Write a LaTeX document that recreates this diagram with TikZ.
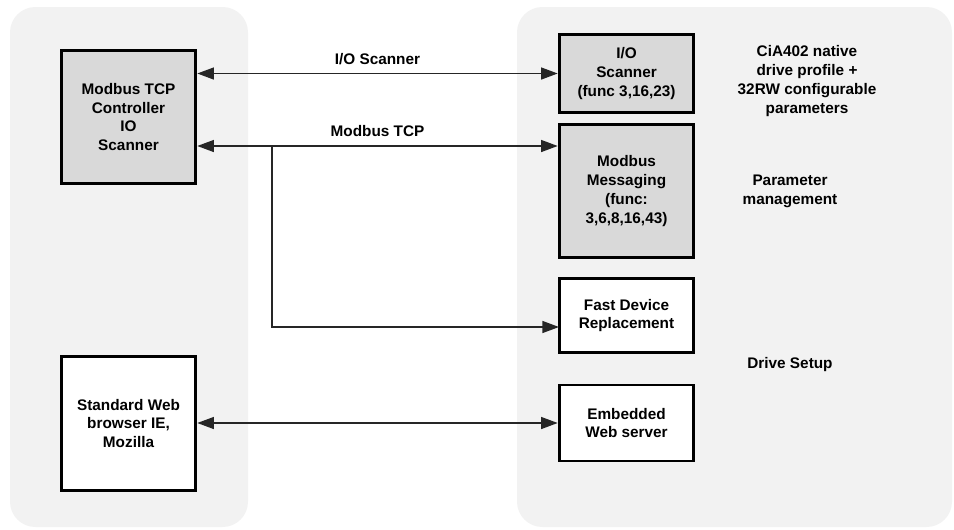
\documentclass[tikz,border=0pt]{standalone}
\usepackage{fontspec}
\setmainfont{Liberation Sans}
\usepackage{tikz}
\usetikzlibrary{arrows.meta}

\definecolor{panelgray}{HTML}{F2F2F2}
\definecolor{boxgray}{HTML}{D9D9D9}

\tikzset{
  block/.style={draw=black, line width=2.2pt, minimum width=101pt, inner sep=0pt,
                align=center, font=\fontsize{11.5}{14.2}\selectfont\bfseries},
  note/.style={align=center, font=\fontsize{11.5}{14.2}\selectfont\bfseries},
  link/.style={line width=1.1pt, draw=black!85}
}

\begin{document}
\begin{tikzpicture}[x=0.75pt, y=-0.75pt, >={Triangle[length=12.5pt, width=9pt]}]
    \useasboundingbox (0, 0) rectangle (954, 529);

    % draw the two panels
    \fill[panelgray, rounded corners=19pt] (10, 7) rectangle (248, 527);
    \fill[panelgray, rounded corners=19pt] (517, 7) rectangle (952, 527);

    % draw left boxes
    \node[block, fill=boxgray, minimum height=100pt] (ctrl) at (128.5, 117)
      {Modbus TCP\\Controller\\IO\\Scanner};
    \node[block, fill=white, minimum height=100pt] (web) at (128.5, 423.5)
      {Standard Web\\browser IE,\\Mozilla};

    % draw right boxes
    \node[block, fill=boxgray, minimum height=58pt] (ios) at (626.5, 73.5)
      {I/O\\Scanner\\(func 3,16,23)};
    \node[block, fill=boxgray, minimum height=100pt] (msg) at (626.5, 191)
      {Modbus\\Messaging\\(func:\\3,6,8,16,43)};
    \node[block, fill=white, minimum height=56pt] (fdr) at (626.5, 315.5)
      {Fast Device\\Replacement};
    \node[block, fill=white, minimum height=57pt] (ews) at (626.5, 423)
      {Embedded\\Web server};

    % draw side notes
    \node[note] (cia) at (807, 81)
      {CiA402 native\\drive profile +\\32RW configurable\\parameters};
    \node[note] (par) at (790, 191) {Parameter\\management};
    \node[note] (drv) at (790, 365) {Drive Setup};

    % draw connectors
    \coordinate (tcp) at (272, 146);
    \coordinate (fdrin) at (559, 327);
    \draw[link, <->] (ctrl.east |- ios.west) -- (ios.west)
      node[midway, above=3pt, note] (iolbl) {I/O Scanner};
    \draw[link, <->] (ctrl.east |- tcp) -- (msg.west |- tcp)
      node[midway, above=3pt, note] (tcplbl) {Modbus TCP};
    \draw[link, ->] (tcp) |- (fdrin);
    \draw[link, <->] (web.east |- ews.west) -- (ews.west);

\end{tikzpicture}
\end{document}
